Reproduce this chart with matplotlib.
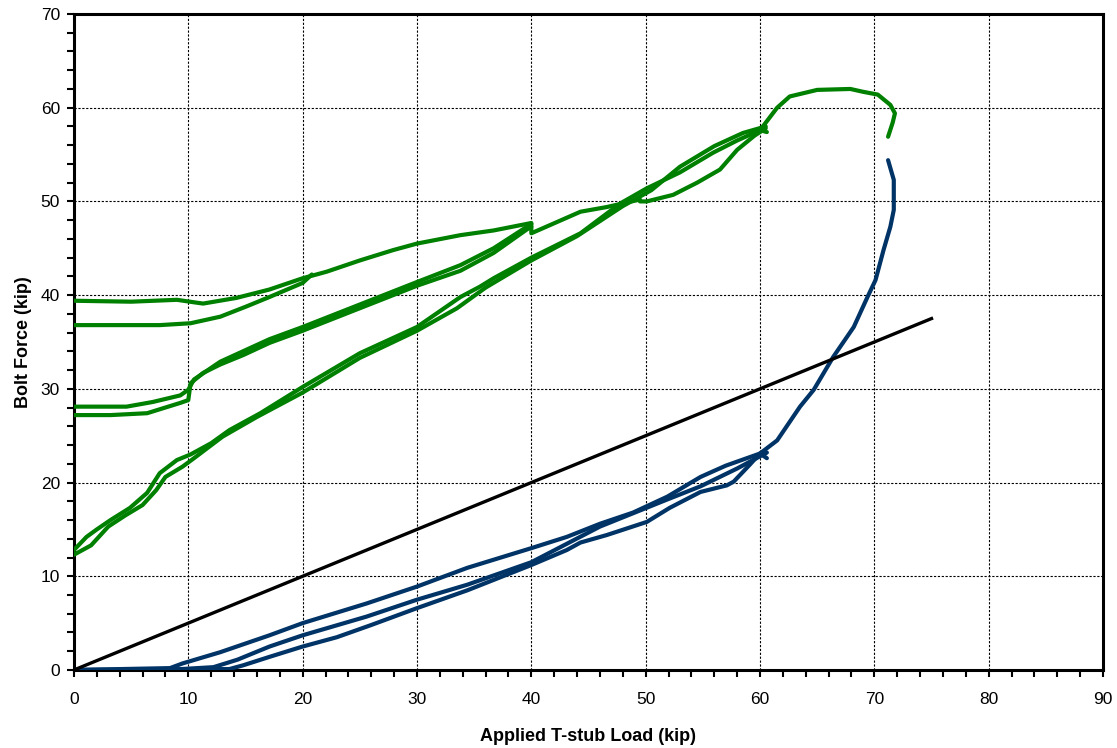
import matplotlib.pyplot as plt
from matplotlib.ticker import MultipleLocator

plt.rcParams['font.family'] = ['Liberation Sans', 'DejaVu Sans']

# green bolt - loading / unloading cycles
g_first_x = [0, 1.1, 2.0, 3.2, 4.9, 6.4, 7.5, 9.0, 10.2, 12.0, 13.6, 16.3, 20, 25, 30, 33.8, 35.5, 36.7, 40, 44.3, 47.8, 50.1, 53, 55.9, 58, 60, 60.6]
g_first_y = [12.8, 14.2, 15.0, 16.0, 17.3, 18.9, 21.0, 22.4, 23.0, 24.2, 25.6, 27.4, 30.2, 33.8, 36.6, 39.8, 40.9, 41.8, 44.0, 46.6, 49.8, 51.4, 53.1, 55.2, 56.5, 57.6, 57.4]
g_rep_x = [0, 1.5, 3.0, 4.5, 6.0, 7.2, 8.0, 9.5, 10.5, 13.0, 16.0, 20, 25, 30, 33.5, 36.0, 40, 44, 48, 50.5, 53, 56, 58.5, 60.5]
g_rep_y = [12.3, 13.3, 15.3, 16.5, 17.6, 19.2, 20.6, 21.7, 22.6, 24.9, 27.0, 29.6, 33.3, 36.2, 38.6, 40.8, 43.7, 46.3, 49.5, 51.2, 53.7, 55.9, 57.3, 58.0]

g_mid1_x = [0, 3.2, 6.4, 9.3, 10.0, 10.2, 11.3, 12.8, 14.8, 17.1, 20, 25, 30, 33.8, 36.7, 39.6, 40]
g_mid1_y = [27.2, 27.2, 27.4, 28.5, 28.8, 30.6, 31.7, 32.6, 33.6, 34.9, 36.2, 38.6, 41.0, 42.6, 44.5, 47.0, 47.3]
g_mid2_x = [0, 4.6, 6.9, 9.3, 10.0, 10.5, 12.8, 17.1, 20, 25, 30, 33.8, 36.7, 40]
g_mid2_y = [28.1, 28.1, 28.6, 29.3, 29.9, 31.0, 32.9, 35.3, 36.6, 39.0, 41.4, 43.2, 45.0, 47.6]

g_top1_x = [0, 5, 9, 10.7, 11.3, 14.2, 17.1, 20, 22.1, 25, 27.9, 30, 33.8, 36.7, 39.6, 40, 40.0, 44.3, 46.6, 49.5]
g_top1_y = [39.4, 39.3, 39.5, 39.2, 39.1, 39.7, 40.6, 41.8, 42.5, 43.7, 44.8, 45.5, 46.4, 46.9, 47.6, 47.7, 46.6, 48.9, 49.4, 50.2]
g_top2_x = [0, 7.5, 10.2, 12.8, 15.1, 17.1, 20, 20.8]
g_top2_y = [36.8, 36.8, 37.0, 37.7, 38.8, 39.8, 41.3, 42.2]

g_loop_x = [49.5, 50.1, 52.4, 54.5, 56.5, 58, 59.5, 60.5]
g_loop_y = [50.0, 50.0, 50.7, 52.0, 53.4, 55.5, 57.0, 57.8]

g_final_x = [60, 61.5, 62.6, 65, 67.9, 69, 70.3, 71.4, 71.8, 71.6, 71.2]
g_final_y = [57.6, 60.0, 61.2, 61.9, 62.0, 61.7, 61.4, 60.3, 59.4, 58.4, 56.9]

# blue bolt
b_top_x = [0, 8.4, 9.5, 12.8, 17.1, 20, 25.6, 30, 34.4, 40, 43.1, 46, 48.9, 51.9, 54.8, 57, 60, 60.6]
b_top_y = [0, 0.2, 0.7, 1.9, 3.7, 5.0, 7.1, 8.9, 10.9, 13.0, 14.2, 15.6, 16.8, 18.5, 20.6, 21.8, 23.1, 22.6]
b_mid_x = [0, 8, 12.2, 14.3, 17.1, 20, 25.6, 30, 34.4, 40, 46, 51.9, 54.8, 58, 60, 60.6]
b_mid_y = [0, 0, 0.3, 1.1, 2.5, 3.7, 5.7, 7.5, 9.1, 11.5, 15.3, 18.2, 19.6, 21.5, 22.8, 23.2]
b_low_x = [0, 13.6, 14.8, 17.1, 20, 23.0, 26.0, 30, 34.4, 40, 43.1, 44.3, 46.6, 50.1, 52.1, 54.8, 57.1, 57.7, 59.1, 60]
b_low_y = [0, 0.1, 0.5, 1.4, 2.5, 3.5, 4.8, 6.6, 8.5, 11.2, 12.8, 13.6, 14.4, 15.8, 17.3, 19.0, 19.7, 20.1, 21.9, 23.1]
b_final_x = [60, 61.5, 63.5, 64.7, 66.4, 68.2, 69.4, 70.1, 70.8, 71.4, 71.7, 71.7, 71.2]
b_final_y = [23.1, 24.5, 28.1, 29.9, 33.4, 36.6, 39.8, 41.6, 44.8, 47.3, 49.1, 52.3, 54.4]

# reference line
ref_x = [0, 75]
ref_y = [0, 37.5]

green = '#008000'
blue = '#003366'

fig = plt.figure(figsize=(11.17, 7.48), dpi=100)
ax = fig.add_axes([0.0662, 0.1043, 0.9213, 0.877])

for xs, ys in [(g_first_x, g_first_y), (g_rep_x, g_rep_y), (g_mid1_x, g_mid1_y),
               (g_mid2_x, g_mid2_y), (g_top1_x, g_top1_y), (g_top2_x, g_top2_y),
               (g_loop_x, g_loop_y), (g_final_x, g_final_y)]:
    ax.plot(xs, ys, color=green, lw=3.0, solid_joinstyle='round', solid_capstyle='round', zorder=3)

for xs, ys in [(b_top_x, b_top_y), (b_mid_x, b_mid_y), (b_low_x, b_low_y), (b_final_x, b_final_y)]:
    ax.plot(xs, ys, color=blue, lw=3.0, solid_joinstyle='round', solid_capstyle='round', zorder=3)

ax.plot(ref_x, ref_y, color='black', lw=2.4, zorder=4)

ax.set_xlim(0, 90)
ax.set_ylim(0, 70)
ax.xaxis.set_major_locator(MultipleLocator(10))
ax.xaxis.set_minor_locator(MultipleLocator(2))
ax.yaxis.set_major_locator(MultipleLocator(10))
ax.yaxis.set_minor_locator(MultipleLocator(2))
ax.grid(True, which='major', color='black', linestyle=(0, (2, 1.5)), linewidth=0.8)
ax.set_axisbelow(True)

for s in ax.spines.values():
    s.set_linewidth(2.2)
ax.tick_params(which='both', direction='out', width=1.5, length=5, labelsize=12.5)
ax.tick_params(axis='x', which='major', pad=11)
ax.tick_params(axis='y', which='major', pad=5)

ax.set_xlabel('Applied T-stub Load (kip)', fontsize=13, weight='bold', labelpad=15)
ax.set_ylabel('Bolt Force (kip)', fontsize=13, weight='bold', labelpad=6)

fig.savefig('out.png', dpi=100)
